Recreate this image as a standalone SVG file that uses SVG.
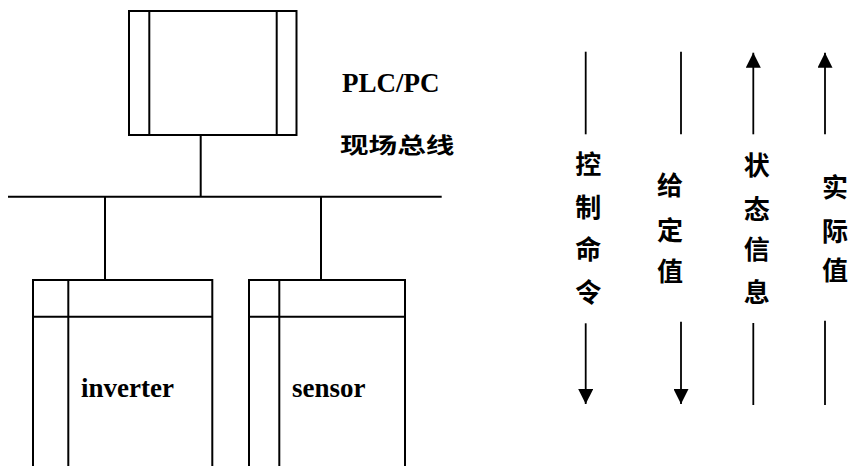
<svg xmlns="http://www.w3.org/2000/svg" width="850" height="466" viewBox="0 0 850 466">
<defs>
<style>
.box{fill:none;stroke:#000;stroke-width:2}
.ln{fill:none;stroke:#000;stroke-width:2}
.ar{fill:none;stroke:#000;stroke-width:1.8}
.en{font-family:"Liberation Serif",serif;font-weight:bold;font-size:27px;fill:#000}
.cn{font-family:"Noto Sans CJK SC",sans-serif;font-weight:bold;font-size:26px;fill:#000;text-anchor:middle}
.cnh{font-family:"Noto Sans CJK SC",sans-serif;font-weight:bold;font-size:22px;fill:#000}
</style>
<marker id="ah" viewBox="0 0 10 10" refX="10" refY="5" markerWidth="15" markerHeight="15" markerUnits="userSpaceOnUse" orient="auto">
<path d="M0,0 L10,5 L0,10 z" fill="#000"/>
</marker>
</defs>
<rect width="850" height="466" fill="#fff"/>
<g id="plc">
<rect class="box" x="129" y="11" width="167.5" height="124"/>
<line class="box" x1="149.3" y1="11" x2="149.3" y2="135"/>
<line class="box" x1="276.7" y1="11" x2="276.7" y2="135"/>
</g>
<g id="inverter">
<path class="box" d="M33,466 V280 H212.3 V466"/>
<line class="box" x1="68.3" y1="280" x2="68.3" y2="466"/>
<line class="box" x1="33" y1="316.7" x2="212.3" y2="316.7"/>
<text class="en" x="81" y="397">inverter</text>
</g>
<g id="sensor">
<path class="box" d="M249,466 V280 H405 V466"/>
<line class="box" x1="279.3" y1="280" x2="279.3" y2="466"/>
<line class="box" x1="249" y1="316.7" x2="405" y2="316.7"/>
<text class="en" x="292" y="397">sensor</text>
</g>
<g id="labels">
<text class="en" x="342" y="92">PLC/PC</text>
<text class="cnh" transform="translate(340,153) scale(1.3,1)" x="0" y="0">现场总线</text>
</g>
<g id="connectors">
<line class="ln" x1="8" y1="196.7" x2="441.7" y2="196.7"/>
<line class="ln" x1="200.7" y1="135" x2="200.7" y2="196.7"/>
<line class="ln" x1="105" y1="196.7" x2="105" y2="280"/>
<line class="ln" x1="321" y1="196.7" x2="321" y2="280"/>
<line class="ar" x1="585.7" y1="51.7" x2="585.7" y2="134.3"/>
<line class="ar" x1="585.7" y1="323.3" x2="585.7" y2="404" marker-end="url(#ah)"/>
<line class="ar" x1="681" y1="51.7" x2="681" y2="134.3"/>
<line class="ar" x1="681" y1="321.7" x2="681" y2="404" marker-end="url(#ah)"/>
<line class="ar" x1="753.3" y1="134.3" x2="753.3" y2="52.7" marker-end="url(#ah)"/>
<line class="ar" x1="753.3" y1="323" x2="753.3" y2="405"/>
<line class="ar" x1="825" y1="134.3" x2="825" y2="52.7" marker-end="url(#ah)"/>
<line class="ar" x1="825" y1="320.7" x2="825" y2="405"/>
</g>
<g id="col1">
<text class="cn" x="588.3" y="174">控</text>
<text class="cn" x="588.3" y="217">制</text>
<text class="cn" x="588.3" y="259">命</text>
<text class="cn" x="588.3" y="302">令</text>
</g>
<g id="col2">
<text class="cn" x="670" y="195">给</text>
<text class="cn" x="670" y="240">定</text>
<text class="cn" x="670" y="280.5">值</text>
</g>
<g id="col3">
<text class="cn" x="756.7" y="175">状</text>
<text class="cn" x="756.7" y="218.5">态</text>
<text class="cn" x="756.7" y="259">信</text>
<text class="cn" x="756.7" y="302">息</text>
</g>
<g id="col4">
<text class="cn" x="835" y="197">实</text>
<text class="cn" x="835" y="241">际</text>
<text class="cn" x="835" y="280">值</text>
</g>
</svg>
